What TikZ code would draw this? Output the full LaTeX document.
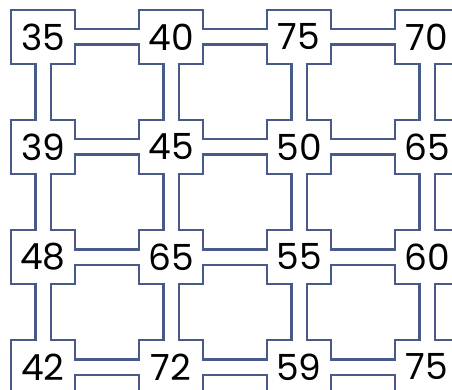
\documentclass[tikz,border=0pt]{standalone}
\usepackage{fontspec}
\setmainfont{Poppins}
\definecolor{pipeblue}{RGB}{72,90,138}

\pgfdeclarelayer{outline}
\pgfdeclarelayer{inner}
\pgfsetlayers{outline,inner,main}

\begin{document}
\begin{tikzpicture}[x=1pt, y=-1pt,
    cell/.style={rectangle, minimum width=62pt, minimum height=52pt,
        inner sep=0pt, outer sep=0pt, font=\fontsize{36}{36}\selectfont},
    rim/.style={pipeblue, line width=4.4pt},
    pipe/.style={pipeblue, line width=17.4pt},
    hole/.style={white, line width=13pt}]
    \useasboundingbox (0,0) rectangle (452,390);
    \clip (0,0) rectangle (452,390);

    \node[cell] (A1) at (43,37) {35};
    \node[cell] (A2) at (171,37) {40};
    \node[cell] (A3) at (299,37) {75};
    \node[cell] (A4) at (427,37) {70};

    \node[cell] (B1) at (43,147) {39};
    \node[cell] (B2) at (171,147) {45};
    \node[cell] (B3) at (299,147) {50};
    \node[cell] (B4) at (427,147) {65};

    \node[cell] (C1) at (43,257) {48};
    \node[cell] (C2) at (171,257) {65};
    \node[cell] (C3) at (299,257) {55};
    \node[cell] (C4) at (427,257) {60};

    \node[cell] (D1) at (43,367) {42};
    \node[cell] (D2) at (171,367) {72};
    \node[cell] (D3) at (299,367) {59};
    \node[cell] (D4) at (427,367) {75};

    % outline of boxes and pipes, then the white inside on top
    \begin{pgfonlayer}{outline}
        \foreach \n in {A1,A2,A3,A4,B1,B2,B3,B4,C1,C2,C3,C4,D1,D2,D3,D4}
            \draw[rim] (\n.south west) rectangle (\n.north east);
        \foreach \a/\b in {A1/A2,A2/A3,A3/A4,B1/B2,B2/B3,B3/B4,
                C1/C2,C2/C3,C3/C4,D1/D2,D2/D3,D3/D4,
                A1/B1,B1/C1,C1/D1,A2/B2,B2/C2,C2/D2,
                A3/B3,B3/C3,C3/D3,A4/B4,B4/C4,C4/D4}
            \draw[pipe] (\a.center) -- (\b.center);
    \end{pgfonlayer}
    \begin{pgfonlayer}{inner}
        \foreach \n in {A1,A2,A3,A4,B1,B2,B3,B4,C1,C2,C3,C4,D1,D2,D3,D4}
            \fill[white] (\n.south west) rectangle (\n.north east);
        \foreach \a/\b in {A1/A2,A2/A3,A3/A4,B1/B2,B2/B3,B3/B4,
                C1/C2,C2/C3,C3/C4,D1/D2,D2/D3,D3/D4,
                A1/B1,B1/C1,C1/D1,A2/B2,B2/C2,C2/D2,
                A3/B3,B3/C3,C3/D3,A4/B4,B4/C4,C4/D4}
            \draw[hole] (\a.center) -- (\b.center);
    \end{pgfonlayer}
\end{tikzpicture}
\end{document}
